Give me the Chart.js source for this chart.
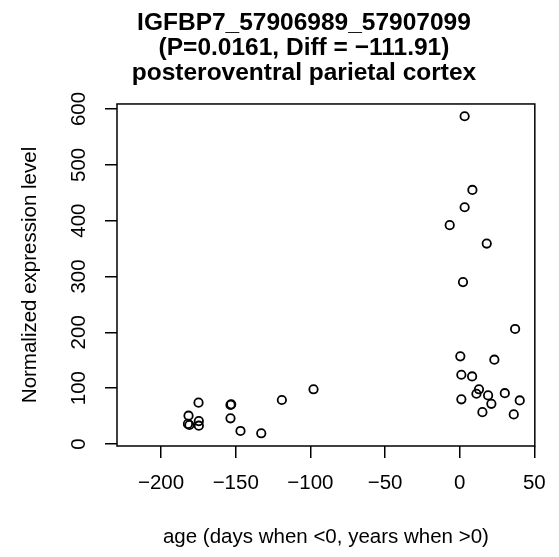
<!DOCTYPE html>
<html>
<head>
<meta charset="utf-8">
<script src="https://cdn.jsdelivr.net/npm/chart.js@4"></script>
<style>
  body { margin: 0; background: #fff; }
  #wrap { width: 559px; height: 557px; }
</style>
</head>
<body>
<div id="wrap"><canvas id="chart"></canvas></div>
<script>
// age in days (<0) or years (>0)
const ages = [-174.9, -181.6, -182, -181, -174.7, -174.7, -153.5, -153, -153.5, -146.8, -132.9, -119.1, -97.9,
    3.3, 8.5, 3.3, -6.7, 18.1, 2.2, 37.1, 0.4, 23.2, 1.1, 8.3, 12.9, 11.2, 19, 30.2, 1.1, 21.2, 40.2, 15.2, 36.2];
const levels = [74, 50.7, 36, 34, 41, 32.8, 70, 71, 46, 23.3, 19.2, 78.8, 98,
    587, 455, 424, 392, 359, 290, 206, 157, 151, 124, 121, 98, 90, 87, 91, 80, 72, 78, 57, 53];

const xTicks = [-200, -150, -100, -50, 0, 50];
const yTicks = [0, 100, 200, 300, 400, 500, 600];

const titleLines = ["IGFBP7_57906989_57907099", "(P=0.0161, Diff = \u2212111.91)", "posteroventral parietal cortex"];

const fam = "'Liberation Sans', Arial, Helvetica, sans-serif";
Chart.defaults.font.family = fam;
Chart.defaults.color = "#000";

const fmt = v => v < 0 ? "\u2212" + Math.abs(v) : String(v);

// plot frame like R's box()
const frame = {
    id: "frame",
    afterDatasetsDraw(chart) {
        const a = chart.chartArea, c = chart.ctx;
        c.save();
        c.strokeStyle = "#000";
        c.lineWidth = 1.5;
        c.strokeRect(a.left, a.top, a.right - a.left, a.bottom - a.top);
        c.restore();
    }
};

new Chart(document.getElementById("chart"), {
    type: "scatter",
    data: {
        datasets: [{
            data: ages.map((a, i) => ({ x: a, y: levels[i] })),
            pointStyle: "circle",
            pointRadius: 4.2,
            pointHoverRadius: 4.2,
            borderWidth: 1.8,
            borderColor: "#000",
            backgroundColor: "rgba(0,0,0,0)"
        }]
    },
    options: {
        responsive: true,
        maintainAspectRatio: false,
        animation: false,
        // negative right padding + empty right axis: title centre lands where R put it
        layout: { padding: { left: 0, right: -49, top: 0, bottom: 0 } },
        plugins: {
            legend: { display: false },
            tooltip: { enabled: false },
            title: {
                display: true,
                text: titleLines,
                font: { size: 24.5, weight: "bold", lineHeight: 1.02 },
                color: "#000",
                padding: { top: 10.8, bottom: 18.2 }
            }
        },
        scales: {
            x: {
                type: "linear",
                min: -229.5,
                max: 50.3,
                afterBuildTicks: s => { s.ticks = xTicks.map(v => ({ value: v })); },
                afterFit: s => { s.height = 111; },
                ticks: {
                    font: { size: 20.5 },
                    color: "#000",
                    padding: 13.2,
                    maxRotation: 0,
                    autoSkip: false,
                    callback: v => fmt(v)
                },
                grid: { drawOnChartArea: false, drawTicks: true, tickLength: 12, lineWidth: 1.5, color: "#000" },
                border: { display: false },
                title: {
                    display: true,
                    text: "age (days when <0, years when >0)",
                    font: { size: 20.5 },
                    color: "#000",
                    padding: { top: 0, bottom: 7.5 }
                }
            },
            y: {
                type: "linear",
                min: -3.6,
                max: 609,
                afterBuildTicks: s => { s.ticks = yTicks.map(v => ({ value: v })); },
                afterFit: s => { s.width = 117; },
                ticks: {
                    font: { size: 20.5 },
                    color: "#000",
                    padding: 8.5,
                    minRotation: 90,
                    maxRotation: 90,
                    crossAlign: "center",
                    autoSkip: false,
                    callback: v => fmt(v)
                },
                grid: { drawOnChartArea: false, drawTicks: true, tickLength: 12, lineWidth: 1.5, color: "#000" },
                border: { display: false },
                title: {
                    display: true,
                    text: "Normalized expression level",
                    font: { size: 20.5 },
                    color: "#000",
                    padding: { top: 17.7, bottom: 0 }
                }
            },
            // empty spacer on the right margin
            yPad: {
                type: "linear",
                position: "right",
                min: 0,
                max: 1,
                afterFit: s => { s.width = 73; },
                ticks: { display: false },
                grid: { display: false },
                border: { display: false }
            }
        }
    },
    plugins: [frame]
});
</script>
</body>
</html>
